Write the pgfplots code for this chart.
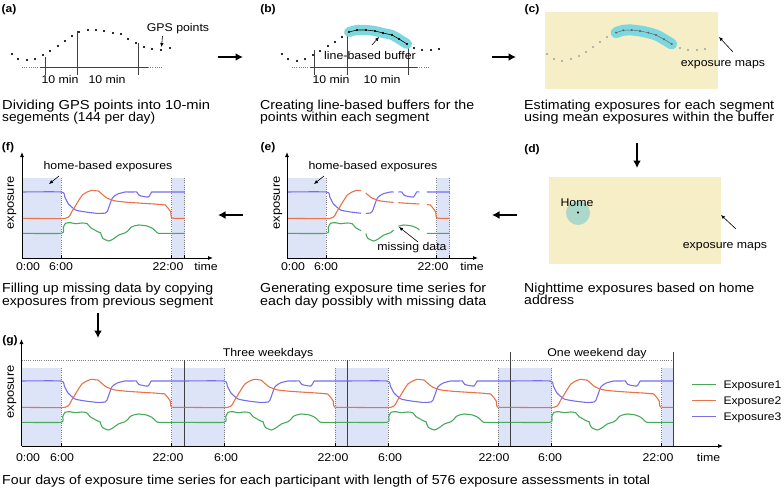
\documentclass[border=0pt]{standalone}
\usepackage{pgfplots}
\pgfplotsset{compat=1.18}
\usepackage{pgfplotstable}
\usepackage{graphicx}
\usepackage{fontspec}
\setmainfont{Liberation Sans}[FakeStretch=1.1]
\usetikzlibrary{arrows.meta}

\definecolor{cpur}{RGB}{120,110,235}
\definecolor{cora}{RGB}{230,115,75}
\definecolor{cgrn}{RGB}{70,170,90}
\definecolor{cshade}{RGB}{222,228,248}
\definecolor{cmap}{RGB}{246,238,198}
\definecolor{cbuf}{RGB}{125,215,222}
\definecolor{chome}{RGB}{172,216,204}
\definecolor{cdot}{RGB}{170,170,170}

\newcommand{\capf}{\fontsize{13bp}{15bp}\selectfont}
\newcommand{\labf}{\fontsize{11.2bp}{13bp}\selectfont}
\newcommand{\legf}{\fontsize{11bp}{13bp}\selectfont}
\newcommand{\panf}{\fontsize{11bp}{12bp}\selectfont\bfseries}
\newcommand{\capl}[4]{\node[font=\capf, anchor=base west, inner sep=0] at (#1,#2) {\resizebox{#3bp}{\height}{#4}};}

\pgfplotstableread{
h v
0 65
5.8 65
6.3 60
6.85 53
7.9 47
9.4 45
10.8 43.8
10.9 43.7
11.25 43.6
11.6 43.6
12.3 44
12.6 46
13.3 59
14.1 63
15.2 65
15.7 65
16.05 65
16.4 65
16.9 65
17.3 61.5
18.6 60
19.1 65
19.5 65
20.05 65
20.6 65
24 65
}\expthree

\pgfplotstableread{
h v
0 38.7
6.4 38.7
7.4 46
8.3 56
8.9 62
9.6 65
10.3 66.7
10.9 66.2
11.25 66
11.6 64
12.5 59
13.8 56
15.7 54.6
16.05 54.5
16.4 54.3
18.7 53.3
19.5 53
20.05 52.7
20.6 52.3
21.1 52
21.6 48
21.9 45
22.1 39
24 38.7
}\exptwo

\pgfplotstableread{
h v
0 23.7
5.8 23.7
6.07 29.3
6.4 33.7
7.14 34.3
7.88 33.3
8.87 34
9.6 33.3
10.1 29.3
10.8 26.7
10.9 26.2
11.25 25
11.56 24.3
11.6 23.5
11.9 18.7
12.8 16
13.5 18.3
14.26 22
15.24 24.3
15.7 27
15.98 29.3
16.05 29.6
16.4 30.8
17.2 32
18.4 31
19.2 28.7
19.5 27
19.9 24.3
20.05 23.8
20.15 23.7
20.6 23.7
24 23.7
}\expone

\pgfplotsset{
  ser/.style={line width=1.1bp, smooth, tension=0.35},
  bigarrow/.style={black, line width=1.9bp, -{Latex[length=7.5bp,width=8bp]}},
  smallarrow/.style={black, line width=0.6bp, -{Latex[length=4bp,width=3.5bp]}},
  axarrow/.style={black, line width=0.8bp, -{Latex[length=5bp,width=4bp]}},
  dotl/.style={gray, line width=0.6bp, dash pattern=on 0.8bp off 1.4bp},
  gapfilter/.style={unbounded coords=jump,
    x filter/.expression={((x>361.3)&&(x<365.5))||((x>393.9)&&(x<398.1))||((x>419.7)&&(x<426.6)) ? nan : x}},
}

\begin{document}
\begin{tikzpicture}
\path[use as bounding box] (0,0) rectangle (784bp,489bp);
\begin{axis}[at={(0,0)}, anchor=south west, scale only axis,
  width=784bp, height=489bp, xmin=0, xmax=784, ymin=0, ymax=489,
  y dir=reverse, axis lines=none, clip=false]

% ================= panel (a)
\addplot[dotl] coordinates {(22,67)(40,67)};
\addplot[dotl] coordinates {(148,67)(163,67)};
\addplot[black!75, line width=0.6bp] coordinates {(40,67)(148,67)};
\addplot[black!75, line width=0.6bp] coordinates {(45,57)(45,75)};
\addplot[black!75, line width=0.6bp] coordinates {(77,31)(77,75)};
\addplot[black!75, line width=0.6bp] coordinates {(138,43)(138,75)};
\addplot[only marks, mark=*, mark size=0.9bp, black] coordinates {
(12,54) (18,59) (27,60) (35,59) (43,55) (50,51) (58,46) (65,41) (72,36) (79,32) (88,30)
(96,30) (104,31) (113,33) (121,34) (128,39) (136,43) (144,47) (152,49) (161,50) (170,48)};
\addplot[smallarrow] coordinates {(162.5,36)(161.5,47)};
\node[font=\panf, anchor=center] at (9,10) {(a)};
\node[font=\labf, anchor=base] at (60,84) {10 min};
\node[font=\labf, anchor=base] at (107,84) {10 min};
\node[font=\labf, anchor=base] at (178,31.5) {GPS points};
\capl{2}{109.5}{208}{Dividing GPS points into 10-min}
\capl{2}{122}{153}{segements (144 per day)}
\addplot[bigarrow] coordinates {(218,57)(243,57)};

% ================= panel (b)
\addplot[dotl] coordinates {(292,67)(310,67)};
\addplot[dotl] coordinates {(417,67)(430,67)};
\addplot[black!75, line width=0.6bp] coordinates {(310,67)(417,67)};
\addplot[black!75, line width=0.6bp] coordinates {(314,50)(314,75)};
\addplot[black!75, line width=0.6bp] coordinates {(347,28)(347,75)};
\addplot[black!75, line width=0.6bp] coordinates {(408,43)(408,75)};
\addplot[cbuf, line width=10bp, line cap=round, line join=round, smooth] coordinates {
(349,32) (357,30) (366,30) (375,31) (383,33) (392,35) (399,39) (407,44)};
\addplot[black, line width=0.6bp, mark=*, mark size=0.8bp] coordinates {
(349,32) (357,30) (366,30) (375,31) (383,33) (392,35) (399,39) (407,44)};
\addplot[only marks, mark=*, mark size=0.9bp, black] coordinates {
(282,54) (288,59) (297,61) (305,59) (313,55) (320,51) (328,46) (335,42) (342,37)
(414,48) (422,50) (431,50) (439,49)};
\addplot[smallarrow] coordinates {(372,45)(379,37)};
\node[font=\panf, anchor=center] at (268,10) {(b)};
\node[font=\labf, anchor=base] at (370,60) {line-based buffer};
\node[font=\labf, anchor=base] at (331,84) {10 min};
\node[font=\labf, anchor=base] at (382,84) {10 min};
\capl{260}{109.5}{214}{Creating line-based buffers for the}
\capl{260}{122}{169}{points within each segment}
\addplot[bigarrow] coordinates {(492,57)(516,57)};

% ================= panel (c)
\addplot[fill=cmap, draw=none] coordinates {(545,12)(718,12)(718,89)(545,89)};
\addplot[cbuf, line width=11bp, line cap=round, line join=round, smooth] coordinates {
(616,32.7) (623.3,30.3) (631.7,30) (640,31) (648.3,32.7) (656,35) (664,39.3) (671.7,44)};
\addplot[black!60, line width=0.5bp, mark=*, mark size=0.7bp] coordinates {
(616,32.7) (623.3,30.3) (631.7,30) (640,31) (648.3,32.7) (656,35) (664,39.3) (671.7,44)};
\addplot[only marks, mark=*, mark size=0.9bp, cdot] coordinates {
(547,54) (554,59) (562,61) (571,59) (579,56) (586,52) (593,47) (600,42) (607,37)
(680,48) (688,50) (697,50) (705,49)};
\addplot[smallarrow] coordinates {(733,52)(719,37)};
\node[font=\panf, anchor=center] at (532,10) {(c)};
\node[font=\labf, anchor=base] at (723,67) {exposure maps};
\capl{524}{109.5}{250}{Estimating exposures for each segment}
\capl{524}{122}{250}{using mean exposures within the buffer}
\addplot[bigarrow] coordinates {(637,143)(637,168)};

% ================= panel (d)
\addplot[fill=cmap, draw=none] coordinates {(549,177)(721,177)(721,264)(549,264)};
\addplot[chome, line width=24bp, line cap=round] coordinates {(578,212.5)(578.05,212.5)};
\addplot[only marks, mark=*, mark size=0.8bp, black] coordinates {(578,212.5)};
\node[font=\labf, anchor=base] at (577,206) {Home};
\addplot[smallarrow] coordinates {(736,229)(721,215)};
\node[font=\labf, anchor=base] at (725,248) {exposure maps};
\node[font=\panf, anchor=center] at (532,150) {(d)};
\capl{524}{292}{230}{Nighttime exposures based on home}
\capl{524}{304.5}{50}{address}
\addplot[bigarrow] coordinates {(517,215)(492,215)};

% ================= panel (e)
\addplot[fill=cshade, draw=none] coordinates {(287,178)(326,178)(326,258)(287,258)};
\addplot[fill=cshade, draw=none] coordinates {(436.5,178)(449.5,178)(449.5,258)(436.5,258)};
\addplot[dotl] coordinates {(326,178)(326,258)};
\addplot[dotl] coordinates {(436.5,178)(436.5,258)};
\addplot[dotl] coordinates {(449.5,178)(449.5,258)};
\addplot[ser, cpur, gapfilter] table[x expr=\thisrow{h}*6.79+287, y expr=257-\thisrow{v}] {\expthree};
\addplot[ser, cora, gapfilter] table[x expr=\thisrow{h}*6.79+287, y expr=257-\thisrow{v}] {\exptwo};
\addplot[ser, cgrn, gapfilter] table[x expr=\thisrow{h}*6.79+287, y expr=257-\thisrow{v}] {\expone};
\addplot[axarrow] coordinates {(287,258)(287,152)};
\addplot[axarrow] coordinates {(287,258)(478,258)};
\addplot[black, line width=0.7bp] coordinates {(326,258)(326,255)};
\addplot[black, line width=0.7bp] coordinates {(436.5,258)(436.5,255)};
\addplot[black, line width=0.7bp] coordinates {(449.5,258)(449.5,255)};
\node[font=\panf, anchor=center] at (268,148) {(e)};
\node[font=\labf, anchor=center, rotate=90, scale=1.05] at (278,203) {exposure};
\node[font=\labf, anchor=base] at (373,169) {home-based exposures};
\addplot[smallarrow] coordinates {(324,176)(314,184)};
\node[font=\labf, anchor=base] at (412,250) {missing data};
\addplot[smallarrow] coordinates {(418,242)(399,227)};
\node[font=\labf, anchor=base] at (293,270.5) {0:00};
\node[font=\labf, anchor=base] at (326,270.5) {6:00};
\node[font=\labf, anchor=base] at (433,270.5) {22:00};
\node[font=\labf, anchor=base] at (472,270.5) {time};
\capl{260}{292.5}{226}{Generating exposure time series for}
\capl{260}{305}{226}{each day possibly with missing data}
\addplot[bigarrow] coordinates {(243,215)(218,215)};

% ================= panel (f)
\addplot[fill=cshade, draw=none] coordinates {(22,178)(61,178)(61,258)(22,258)};
\addplot[fill=cshade, draw=none] coordinates {(171.5,178)(184.5,178)(184.5,258)(171.5,258)};
\addplot[dotl] coordinates {(61,178)(61,258)};
\addplot[dotl] coordinates {(171.5,178)(171.5,258)};
\addplot[dotl] coordinates {(184.5,178)(184.5,258)};
\addplot[ser, cpur] table[x expr=\thisrow{h}*6.79+22, y expr=257-\thisrow{v}] {\expthree};
\addplot[ser, cora] table[x expr=\thisrow{h}*6.79+22, y expr=257-\thisrow{v}] {\exptwo};
\addplot[ser, cgrn] table[x expr=\thisrow{h}*6.79+22, y expr=257-\thisrow{v}] {\expone};
\addplot[axarrow] coordinates {(22,258)(22,152)};
\addplot[axarrow] coordinates {(22,258)(213,258)};
\addplot[black, line width=0.7bp] coordinates {(61,258)(61,255)};
\addplot[black, line width=0.7bp] coordinates {(171.5,258)(171.5,255)};
\addplot[black, line width=0.7bp] coordinates {(184.5,258)(184.5,255)};
\node[font=\panf, anchor=center] at (8,148) {(f)};
\node[font=\labf, anchor=center, rotate=90, scale=1.05] at (12,203) {exposure};
\node[font=\labf, anchor=base] at (108,169) {home-based exposures};
\addplot[smallarrow] coordinates {(59,176)(49,184)};
\node[font=\labf, anchor=base] at (28,270.5) {0:00};
\node[font=\labf, anchor=base] at (61,270.5) {6:00};
\node[font=\labf, anchor=base] at (168,270.5) {22:00};
\node[font=\labf, anchor=base] at (206,270.5) {time};
\capl{2}{292.5}{211}{Filling up missing data by copying}
\capl{2}{305}{211}{exposures from previous segment}
\addplot[bigarrow] coordinates {(98,313)(98,338)};

% ================= panel (g)
\addplot[fill=cshade, draw=none] coordinates {(21.5,368)(61,368)(61,446)(21.5,446)};
\addplot[fill=cshade, draw=none] coordinates {(171.5,368)(224.5,368)(224.5,446)(171.5,446)};
\addplot[fill=cshade, draw=none] coordinates {(335,368)(388,368)(388,446)(335,446)};
\addplot[fill=cshade, draw=none] coordinates {(498,368)(551.5,368)(551.5,446)(498,446)};
\addplot[fill=cshade, draw=none] coordinates {(661.5,368)(673.5,368)(673.5,446)(661.5,446)};
\addplot[dotl] coordinates {(21.5,360.7)(673.5,360.7)};
\addplot[dotl] coordinates {(61,368)(61,446)};
\addplot[dotl] coordinates {(171.5,368)(171.5,446)};
\addplot[dotl] coordinates {(224.5,368)(224.5,446)};
\addplot[dotl] coordinates {(335,368)(335,446)};
\addplot[dotl] coordinates {(388,368)(388,446)};
\addplot[dotl] coordinates {(498,368)(498,446)};
\addplot[dotl] coordinates {(551.5,368)(551.5,446)};
\addplot[dotl] coordinates {(661.5,368)(661.5,446)};
\addplot[black!75, line width=0.8bp] coordinates {(184.5,360)(184.5,446)};
\addplot[black!75, line width=0.8bp] coordinates {(347.5,360)(347.5,446)};
\addplot[black!75, line width=0.8bp] coordinates {(510.5,352)(510.5,446)};
\addplot[black!75, line width=0.8bp] coordinates {(673.5,352)(673.5,446)};
\addplot[ser, cpur] table[x expr=\thisrow{h}*6.79+21.5, y expr=446-\thisrow{v}] {\expthree};
\addplot[ser, cora] table[x expr=\thisrow{h}*6.79+21.5, y expr=446-\thisrow{v}] {\exptwo};
\addplot[ser, cgrn] table[x expr=\thisrow{h}*6.79+21.5, y expr=446-\thisrow{v}] {\expone};
\addplot[ser, cpur] table[x expr=\thisrow{h}*6.79+184.5, y expr=446-\thisrow{v}] {\expthree};
\addplot[ser, cora] table[x expr=\thisrow{h}*6.79+184.5, y expr=446-\thisrow{v}] {\exptwo};
\addplot[ser, cgrn] table[x expr=\thisrow{h}*6.79+184.5, y expr=446-\thisrow{v}] {\expone};
\addplot[ser, cpur] table[x expr=\thisrow{h}*6.79+347.5, y expr=446-\thisrow{v}] {\expthree};
\addplot[ser, cora] table[x expr=\thisrow{h}*6.79+347.5, y expr=446-\thisrow{v}] {\exptwo};
\addplot[ser, cgrn] table[x expr=\thisrow{h}*6.79+347.5, y expr=446-\thisrow{v}] {\expone};
\addplot[ser, cpur] table[x expr=\thisrow{h}*6.79+510.5, y expr=446-\thisrow{v}] {\expthree};
\addplot[ser, cora] table[x expr=\thisrow{h}*6.79+510.5, y expr=446-\thisrow{v}] {\exptwo};
\addplot[ser, cgrn] table[x expr=\thisrow{h}*6.79+510.5, y expr=446-\thisrow{v}] {\expone};
\addplot[axarrow] coordinates {(21.5,446)(21.5,339)};
\addplot[axarrow] coordinates {(21.5,446)(723,446)};
\addplot[black, line width=0.7bp] coordinates {(61,446)(61,443)};
\addplot[black, line width=0.7bp] coordinates {(171.5,446)(171.5,443)};
\addplot[black, line width=0.7bp] coordinates {(224.5,446)(224.5,443)};
\addplot[black, line width=0.7bp] coordinates {(335,446)(335,443)};
\addplot[black, line width=0.7bp] coordinates {(388,446)(388,443)};
\addplot[black, line width=0.7bp] coordinates {(498,446)(498,443)};
\addplot[black, line width=0.7bp] coordinates {(551.5,446)(551.5,443)};
\addplot[black, line width=0.7bp] coordinates {(661.5,446)(661.5,443)};
\node[font=\panf, anchor=center] at (10,341) {(g)};
\node[font=\labf, anchor=center, rotate=90, scale=1.05] at (12,392) {exposure};
\node[font=\labf, anchor=base] at (268,356) {Three weekdays};
\node[font=\labf, anchor=base] at (597,356) {One weekend day};
\node[font=\labf, anchor=base] at (28,461) {0:00};
\node[font=\labf, anchor=base] at (62,461) {6:00};
\node[font=\labf, anchor=base] at (168,461) {22:00};
\node[font=\labf, anchor=base] at (226,461) {6:00};
\node[font=\labf, anchor=base] at (333,461) {22:00};
\node[font=\labf, anchor=base] at (390,461) {6:00};
\node[font=\labf, anchor=base] at (494,461) {22:00};
\node[font=\labf, anchor=base] at (550,461) {6:00};
\node[font=\labf, anchor=base] at (658,461) {22:00};
\node[font=\labf, anchor=base] at (708.5,461) {time};
\addplot[cgrn, line width=1.1bp] coordinates {(692,384.3)(716,384.3)};
\addplot[cora, line width=1.1bp] coordinates {(692,400.7)(716,400.7)};
\addplot[cpur, line width=1.1bp] coordinates {(692,416.7)(716,416.7)};
\node[font=\legf, anchor=base west, inner sep=0] at (723.3,388.3) {Exposure1};
\node[font=\legf, anchor=base west, inner sep=0] at (723.3,404.7) {Exposure2};
\node[font=\legf, anchor=base west, inner sep=0] at (723.3,420.7) {Exposure3};
\capl{2}{484}{648}{Four days of exposure time series for each participant with length of 576 exposure assessments in total}
\end{axis}
\end{tikzpicture}
\end{document}
